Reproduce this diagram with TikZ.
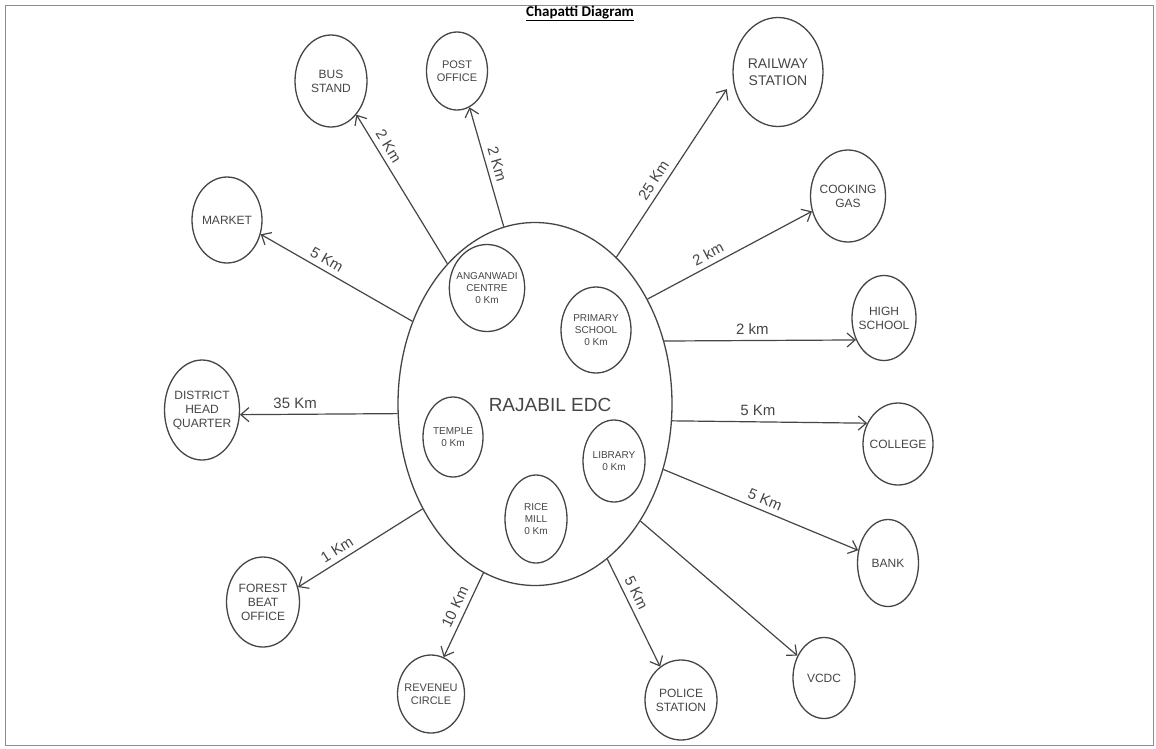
\documentclass[tikz,border=0pt]{standalone}
\usepackage{fontspec}
\setmainfont{Liberation Sans}
\newfontfamily\titlefont{Carlito}
\usepackage{tikz}
\usetikzlibrary{shapes.geometric,arrows.meta}
\definecolor{ink}{HTML}{454545}

\begin{document}
\begin{tikzpicture}[
        x=1pt, y=-1pt,
        >={Straight Barb[length=8pt,width=14pt]},
        place/.style={ellipse, draw=ink, line width=1.3pt, inner sep=-4pt, align=center,
                      text=ink, font=\fontsize{12}{14}\selectfont},
        spot/.style={place, font=\fontsize{10}{12}\selectfont},
        dist/.style={sloped, above=2pt, text=ink, font=\fontsize{15}{17}\selectfont}
        ]
        \useasboundingbox (0,0) rectangle (1156,748);
        \draw[black!45, line width=0.8pt] (5,5) rectangle (1153,745);
        \node (title) at (580,13) {\titlefont\bfseries\fontsize{15}{17}\selectfont\underline{Chapatti Diagram}};

        % the village
        \node[place, minimum width=274pt, minimum height=363pt] (edc) at (535,404) {};
        \node[text=ink, font=\fontsize{19}{22}\selectfont] (edcname) at (550,405) {RAJABIL EDC};
        \node[spot, minimum width=75pt, minimum height=87pt] (anganwadi) at (487,288) {ANGANWADI\\CENTRE\\0 Km};
        \node[spot, minimum width=70pt, minimum height=86pt] (primary) at (596,330) {PRIMARY\\SCHOOL\\0 Km};
        \node[spot, minimum width=60pt, minimum height=80pt] (temple) at (453,437) {TEMPLE\\0 Km};
        \node[spot, minimum width=62pt, minimum height=82pt] (library) at (614,461) {LIBRARY\\0 Km};
        \node[spot, minimum width=62pt, minimum height=88pt] (rice) at (536,519) {RICE\\MILL\\0 Km};

        % places outside
        \node[place, minimum width=70pt, minimum height=86pt] (market) at (227,220) {MARKET};
        \node[place, minimum width=72pt, minimum height=92pt] (bus) at (331,81) {BUS\\STAND};
        \node[place, minimum width=61pt, minimum height=78pt, font=\fontsize{11}{13}\selectfont] (post) at (457,71) {POST\\OFFICE};
        \node[place, minimum width=90pt, minimum height=109pt, font=\fontsize{14}{17}\selectfont] (rail) at (778,72) {RAILWAY\\STATION};
        \node[place, minimum width=75pt, minimum height=92pt] (gas) at (848,196) {COOKING\\GAS};
        \node[place, minimum width=64pt, minimum height=85pt] (high) at (884,318) {HIGH\\SCHOOL};
        \node[place, minimum width=70pt, minimum height=82pt] (college) at (898,444) {COLLEGE};
        \node[place, minimum width=61pt, minimum height=87pt] (bank) at (888,563) {BANK};
        \node[place, minimum width=62pt, minimum height=81pt] (vcdc) at (824,678) {VCDC};
        \node[place, minimum width=72pt, minimum height=80pt] (police) at (681,700) {POLICE\\STATION};
        \node[place, minimum width=67pt, minimum height=78pt, font=\fontsize{11}{13}\selectfont] (revenue) at (431,694) {REVENEU\\CIRCLE};
        \node[place, minimum width=73pt, minimum height=90pt] (forest) at (263,602) {FOREST\\BEAT\\OFFICE};
        \node[place, minimum width=75pt, minimum height=100pt] (dhq) at (202,410) {DISTRICT\\HEAD\\QUARTER};

        \path[->, ink, line width=1.2pt]
              (edc.146) edge node[dist, pos=.6] {5 Km} (market.337)
              (edc.122) edge node[dist, pos=.75] {2 Km} (bus.-53)
              (edc.100) edge node[dist, pos=.5] {2 Km} (post.-71)
              (edc.61) edge[shorten >=11pt] node[dist, pos=.4] {25 Km} (rail.190)
              (edc.43) edge node[dist, pos=.4] {2 km} (gas.203)
              (edc.26) edge node[dist, pos=.46] {2 km} (high.218)
              (edc.-7) edge node[dist, pos=.44] {5 Km} (college.146)
              (edc.-27) edge node[dist, pos=.5] {5 Km} (bank.157)
              (edc.-48) edge (vcdc.140)
              (edc.-65) edge node[dist, pos=.36] {5 Km} (police.122)
              (edc.-107) edge node[dist, pos=.46] {10 Km} (revenue.71)
              (edc.-137) edge node[dist, pos=.64] {1 Km} (forest.23)
              (edc.184) edge node[dist, pos=.65] {35 Km} (dhq.-7);
\end{tikzpicture}
\end{document}
